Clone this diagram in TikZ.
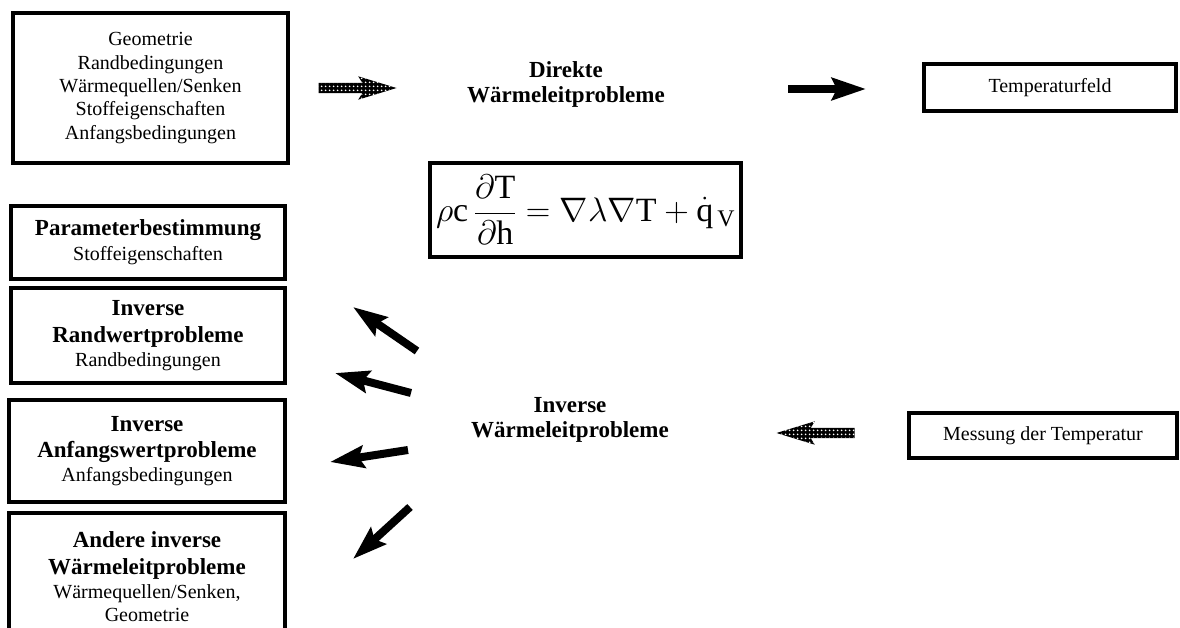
\RequirePackage{fix-cm}
\documentclass[tikz,border=0pt]{standalone}
\usepackage{fontspec}
\setmainfont{Liberation Serif}
\usetikzlibrary{arrows.meta,shapes.arrows,patterns}
\pgfdeclarepatternformonly{wdots}{\pgfqpoint{0pt}{0pt}}{\pgfqpoint{4pt}{4pt}}{\pgfqpoint{4pt}{4pt}}{\pgfpathcircle{\pgfqpoint{2pt}{2pt}}{1.1pt}\pgfusepath{fill}}
\newcommand{\BL}[1]{{\fontsize{23}{27}\selectfont\bfseries #1}}
\begin{document}
\begin{tikzpicture}[x=1pt,y=-1pt,
  box/.style={draw, line width=3.5pt, align=center, inner sep=0pt, font=\fontsize{20}{23.3}\selectfont},
  lbl/.style={align=center, font=\fontsize{23}{25}\selectfont\bfseries},
  blk/.style={line width=8pt, -{Stealth[length=34pt,width=22pt,inset=5pt]}},
  hatch/.style={single arrow, minimum height=78pt, minimum width=23pt, inner sep=5pt,
    single arrow head extend=6.5pt, single arrow tip angle=34, single arrow head indent=4pt,
    preaction={fill=black}, pattern=wdots, pattern color=white}]
\clip (0,0) rectangle (1180,628);
% boxes
\node[box, minimum width=275, minimum height=150] (geo) at (150.5,88)
  {Geometrie\\Randbedingungen\\Wärmequellen/Senken\\Stoffeigenschaften\\Anfangsbedingungen};
\node[box, minimum width=252, minimum height=47] (temp) at (1050,87.5) {Temperaturfeld};
\node[box, minimum width=311, minimum height=94] (eq) at (585.5,210)
  {\fontsize{34}{40}\selectfont$\displaystyle \rho\mathrm{c}\,\frac{\partial\mathrm{T}}{\partial\mathrm{h}}=\nabla\lambda\nabla\mathrm{T}+\dot{\mathrm{q}}_{\mathrm{\,V}}$};
\node[box, minimum width=274, minimum height=73] (param) at (148,242.5)
  {\BL{Parameterbestimmung}\\[2pt]Stoffeigenschaften};
\node[box, minimum width=274, minimum height=95] (rand) at (148,335.5)
  {\BL{Inverse}\\[4pt]\BL{Randwertprobleme}\\Randbedingungen};
\node[box, minimum width=276, minimum height=102] (anf) at (147,451)
  {\BL{Inverse}\\[3pt]\BL{Anfangswertprobleme}\\[1pt]Anfangsbedingungen};
\node[box, minimum width=276, minimum height=127] (andere) at (147,576.5)
  {\BL{Andere inverse}\\[4pt]\BL{Wärmeleitprobleme}\\Wärmequellen/Senken,\\Geometrie};
\node[box, minimum width=268, minimum height=45] (mess) at (1043,435.5) {Messung der Temperatur};
% labels
\node[lbl] (direkt) at (566,84) {Direkte\\Wärmeleitprobleme};
\node[lbl] (inv) at (570,420) {Inverse\\Wärmeleitprobleme};
% hatched arrows
\node[hatch] (h1) at (349,88) {};
\node[hatch, shape border rotate=180] (h2) at (824,433) {};
% black arrows
\coordinate (d1) at (788,89);
\coordinate (d2) at (866,89);
\draw[blk] (d1) -- (d2);
\coordinate (a1s) at (417,351); \coordinate (a1e) at (353,307);
\coordinate (a2s) at (411,393); \coordinate (a2e) at (335,373);
\coordinate (a3s) at (408,450); \coordinate (a3e) at (330,462);
\coordinate (a4s) at (410,507); \coordinate (a4e) at (353,559);
\draw[blk] (a1s) -- (a1e);
\draw[blk] (a2s) -- (a2e);
\draw[blk] (a3s) -- (a3e);
\draw[blk] (a4s) -- (a4e);
\end{tikzpicture}
\end{document}
